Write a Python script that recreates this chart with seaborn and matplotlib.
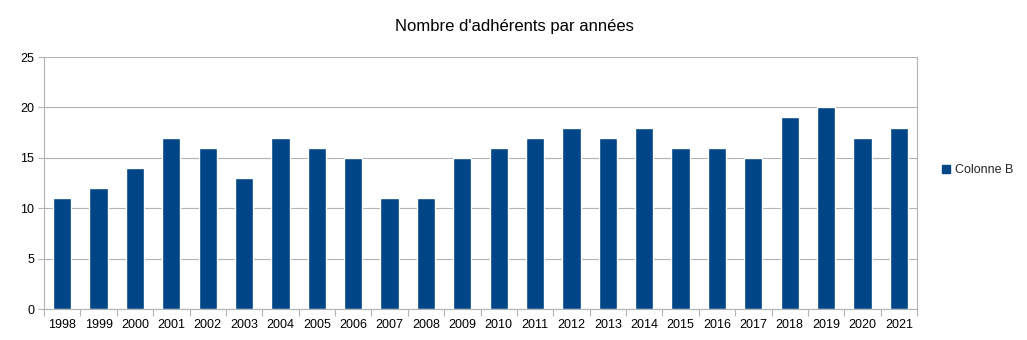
import matplotlib
matplotlib.use("Agg")
import matplotlib.pyplot as plt
from matplotlib.lines import Line2D
import numpy as np
import pandas as pd
import seaborn as sns

annees = ["1998", "1999", "2000", "2001", "2002", "2003", "2004", "2005",
          "2006", "2007", "2008", "2009", "2010", "2011", "2012", "2013",
          "2014", "2015", "2016", "2017", "2018", "2019", "2020", "2021"]
adherents = [11, 12, 14, 17, 16, 13, 17, 16, 15, 11, 11, 15,
             16, 17, 18, 17, 18, 16, 16, 15, 19, 20, 17, 18]

df = pd.DataFrame({"Année": annees, "Colonne B": adherents})

sns.set_theme(style="white")
plt.rcParams["font.family"] = ["Liberation Sans", "DejaVu Sans"]

bleu = "#004586"
gris = "#b3b3b3"

fig = plt.figure(figsize=(10.27, 3.4), dpi=100)
ax = fig.add_axes([44 / 1027, 1 - 309 / 340, (917 - 44) / 1027, (309 - 57) / 340])

sns.barplot(data=df, x="Année", y="Colonne B", color=bleu, width=0.5,
            saturation=1, ax=ax, zorder=3)

ax.set_ylim(0, 25)
ax.set_xlim(-0.5, len(annees) - 0.5)
ax.set_yticks(np.arange(0, 26, 5))
ax.yaxis.grid(True, color=gris, linewidth=0.8, zorder=0)
ax.set_axisbelow(True)
ax.set_xlabel("")
ax.set_ylabel("")

for side in ["left", "right", "bottom"]:
    ax.spines[side].set_visible(True)
    ax.spines[side].set_color(gris)
    ax.spines[side].set_linewidth(0.8)
ax.spines["top"].set_visible(False)

ax.set_xticks(np.arange(-0.5, len(annees), 1.0), minor=True)
ax.tick_params(axis="x", which="major", length=0, labelsize=9, pad=7, colors="black")
ax.tick_params(axis="x", which="minor", length=5, width=0.8, color=gris, bottom=True)
ax.tick_params(axis="y", which="major", length=4, width=0.8, color=gris,
               labelsize=9, pad=3, left=True, labelcolor="black")

fig.text(514 / 1027, 1 - 27 / 340, "Nombre d'adhérents par années", ha="center",
         va="center", fontsize=12, color="black")

poignee = Line2D([], [], marker="s", linestyle="none", markersize=6,
                 markerfacecolor=bleu, markeredgecolor=bleu)
fig.legend([poignee], ["Colonne B"], loc="center left",
           bbox_to_anchor=(941 / 1027, 1 - 170 / 340), frameon=False,
           fontsize=9, handlelength=0.8, handletextpad=0.3,
           borderaxespad=0, borderpad=0)

fig.savefig("out.png", dpi=100)
